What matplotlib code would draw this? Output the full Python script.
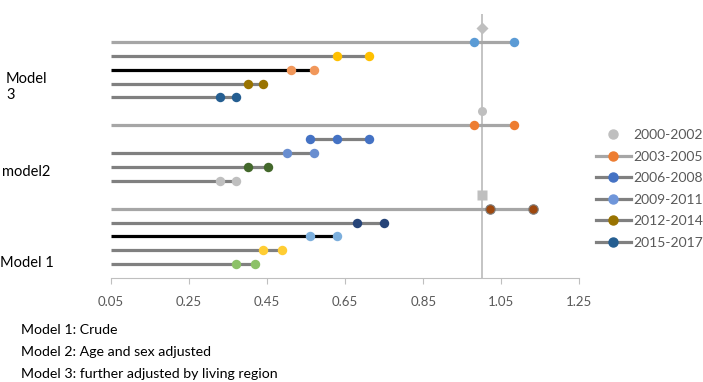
import matplotlib
matplotlib.use("Agg")
import matplotlib.pyplot as plt
from matplotlib.lines import Line2D

plt.rcParams['font.family'] = ['Lato', 'DejaVu Sans']

# odds ratios per row, bottom row first within each model
model1_values = [[0.370, 0.419], [0.440, 0.489], [0.559, 0.630], [0.680, 0.750], [1.021, 1.132]]
model2_values = [[0.330, 0.370], [0.400, 0.451], [0.500, 0.571], [0.560, 0.630, 0.711], [0.981, 1.082]]
model3_values = [[0.330, 0.370], [0.400, 0.440], [0.510, 0.571], [0.630, 0.711], [0.981, 1.082]]
reference_value = 1.0
group_labels = ["Model 1", "model2", "Model\n3"]
periods = ["2000-2002", "2003-2005", "2006-2008", "2009-2011", "2012-2014", "2015-2017"]
x_ticks = [0.05, 0.25, 0.45, 0.65, 0.85, 1.05, 1.25]
notes = ["Model 1: Crude", "Model 2: Age and sex adjusted",
         "Model 3: further adjusted by living region"]

DARK = '#808080'
LIGHT = '#A6A6A6'
REF = '#BFBFBF'

marker_colors = [
    ['#8CC168', '#FFCD33', '#7CAFDD', '#264478', '#9E480E'],
    ['#BFBFBF', '#43682B', '#698ED0', '#4472C4', '#ED7D31'],
    ['#255E91', '#997300', '#F1975A', '#FFC000', '#5B9BD5'],
]
line_colors = [
    [DARK, DARK, 'black', DARK, LIGHT],
    [DARK, DARK, DARK, DARK, LIGHT],
    [DARK, DARK, 'black', DARK, LIGHT],
]
ref_markers = ['s', 'o', 'D']
legend_colors = ['#BFBFBF', '#ED7D31', '#4472C4', '#6F96DA', '#997300', '#255E91']

fig = plt.figure(figsize=(7.03, 3.82), dpi=100)
ax = fig.add_axes([0.158, 0.272, 0.666, 0.691])
x_start, x_end = 0.05, 1.25
ax.set_xlim(x_start, x_end)
ax.set_ylim(0, 19)

ax.axvline(reference_value, color=REF, lw=1.3, zorder=1)

groups = [model1_values, model2_values, model3_values]
for g, vals in enumerate(groups):
    base = g * 6
    for i, v in enumerate(vals):
        y = base + i + 1
        # the middle row of model 2 starts at its first point
        x0 = v[0] if (g == 1 and i == 3) else x_start
        ax.plot([x0, v[-1]], [y, y], color=line_colors[g][i], lw=2.3,
                solid_capstyle='butt', zorder=2)
        edge = '#7F7F7F' if (g == 0 and i == 4) else 'none'
        ax.plot(v, [y] * len(v), 'o', ms=6.8, color=marker_colors[g][i],
                mec=edge, mew=0.8, zorder=3)
    ax.plot([reference_value], [base + 6], ref_markers[g], color=REF,
            ms=6.5 if ref_markers[g] != 'D' else 6.3, mec='none', zorder=3)

for s in ['left', 'top', 'right']:
    ax.spines[s].set_visible(False)
ax.spines['bottom'].set_color('#BFBFBF')
ax.set_yticks([])
ax.set_xticks(x_ticks)
ax.set_xticklabels([f'{t:.2f}' for t in x_ticks])
ax.tick_params(axis='x', colors='#BFBFBF', labelcolor='#595959',
               length=4, labelsize=9.5, pad=9)

# group labels at left
fig.text(6 / 703, 1 - 87 / 382, group_labels[2], fontsize=10.5, va='center',
         linespacing=1.2)
fig.text(2 / 703, 1 - 172 / 382, group_labels[1], fontsize=10.5, va='center')
fig.text(0 / 703, 1 - 263 / 382, group_labels[0], fontsize=10.5, va='center')

for k, note in enumerate(notes):
    fig.text(21 / 703, 1 - (330 + 22 * k) / 382, note, fontsize=10.2, va='center')

handles = []
for k, (p, c) in enumerate(zip(periods, legend_colors)):
    if k == 0:
        h = Line2D([], [], ls='none', marker='o', color=c, ms=6.5)
    else:
        lc = LIGHT if k == 1 else DARK
        h = Line2D([], [], color=lc, lw=2.3, marker='o', mfc=c, mec=c, ms=6.5)
    handles.append(h)
fig.legend(handles, periods, loc='upper left', bbox_to_anchor=(596 / 703, 1 - 129 / 382),
           frameon=False, fontsize=10, labelcolor='#595959', handlelength=2.5,
           handletextpad=0.2, labelspacing=0.69, borderaxespad=0, borderpad=0)

fig.savefig('out.png', dpi=100)
